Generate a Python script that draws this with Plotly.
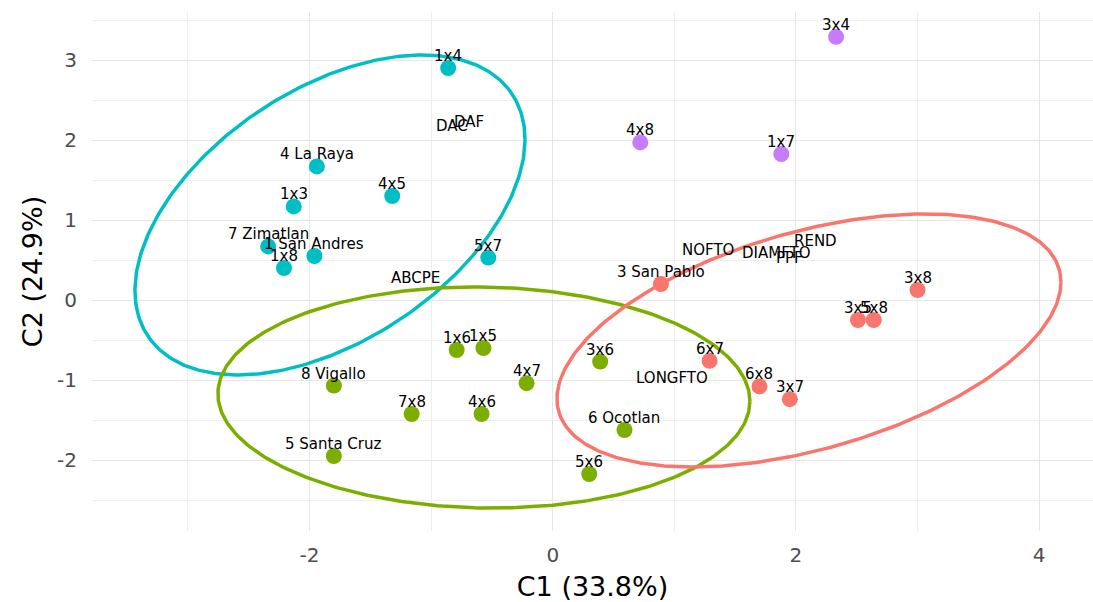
import numpy as np
import plotly.graph_objects as go

# Individuals: scores on the first two components, by cluster
c1_labels = ["1x4", "4 La Raya", "1x3", "4x5", "7 Zimatlan", "1 San Andres", "1x8", "5x7"]
c1_x = [-0.86, -1.94, -2.13, -1.32, -2.34, -1.96, -2.21, -0.53]
c1_y = [2.90, 1.67, 1.17, 1.30, 0.67, 0.55, 0.40, 0.53]

c2_labels = ["1x6", "1x5", "3x6", "4x7", "8 Vigallo", "7x8", "4x6", "6 Ocotlan", "5 Santa Cruz", "5x6"]
c2_x = [-0.79, -0.57, 0.39, -0.215, -1.80, -1.16, -0.585, 0.59, -1.80, 0.30]
c2_y = [-0.625, -0.60, -0.77, -1.04, -1.07, -1.425, -1.425, -1.625, -1.95, -2.175]

c3_labels = ["3 San Pablo", "3x8", "3x5", "5x8", "6x7", "6x8", "3x7"]
c3_x = [0.89, 3.00, 2.51, 2.64, 1.29, 1.70, 1.95]
c3_y = [0.20, 0.125, -0.25, -0.25, -0.76, -1.08, -1.24]

c4_labels = ["3x4", "4x8", "1x7"]
c4_x = [2.33, 0.72, 1.88]
c4_y = [3.29, 1.97, 1.825]

# Variables (text only)
var_labels = ["DAC", "DAF", "ABCPE", "NOFTO", "DIAMFTO", "PPF", "REND", "LONGFTO"]
var_x = [-0.83, -0.69, -1.13, 1.28, 1.84, 1.945, 2.16, 0.98]
var_y = [2.17, 2.23, 0.275, 0.62, 0.59, 0.53, 0.74, -0.97]

# Axis ticks
x_ticks = [-2, 0, 2, 4]
x_ticktext = ["-2", "0", "2", "4"]
y_ticks = [-2, -1, 0, 1, 2, 3]
y_ticktext = ["-2", "-1", "0", "1", "2", "3"]

# Confidence ellipses: centre and shape matrix (sxx, syy, sxy) per cluster
ell_cx = [-1.832, -0.566, 2.107]
ell_cy = [1.0625, -1.219, -0.506]
ell_sxx = [2.572, 4.785, 4.295]
ell_syy = [4.000, 1.908, 2.500]
ell_sxy = [1.515, -0.100, 1.511]

colors = ["#00BFC4", "#7CAE00", "#F8766D", "#C77CFF"]

fig = go.Figure()

t = np.linspace(0, 2 * np.pi, 361)
for i in range(3):
    a = np.sqrt(ell_sxx[i])
    b = ell_sxy[i] / a
    c = np.sqrt(ell_syy[i] - b * b)
    ex = ell_cx[i] + a * np.cos(t)
    ey = ell_cy[i] + b * np.cos(t) + c * np.sin(t)
    fig.add_trace(go.Scatter(x=ex, y=ey, mode="lines",
                             line=dict(color=colors[i], width=3.5),
                             hoverinfo="skip", showlegend=False))

groups = [(c1_labels, c1_x, c1_y), (c2_labels, c2_x, c2_y),
          (c3_labels, c3_x, c3_y), (c4_labels, c4_x, c4_y)]
label_font = dict(family="DejaVu Sans", size=15, color="black")
annotations = []
for i, (labs, xs, ys) in enumerate(groups):
    fig.add_trace(go.Scatter(x=xs, y=ys, mode="markers",
                             marker=dict(color=colors[i], size=16, line=dict(width=0)),
                             text=labs, showlegend=False))
    for lab, xv, yv in zip(labs, xs, ys):
        annotations.append(dict(x=xv, y=yv, text=lab, showarrow=False, yshift=12,
                                font=label_font, xanchor="center", yanchor="middle"))

for lab, xv, yv in zip(var_labels, var_x, var_y):
    annotations.append(dict(x=xv, y=yv, text=lab, showarrow=False,
                            font=label_font, xanchor="center", yanchor="middle"))

fig.update_layout(
    width=1093, height=602,
    margin=dict(l=92, r=0, t=12, b=71),
    paper_bgcolor="white", plot_bgcolor="white",
    annotations=annotations,
    showlegend=False,
)
fig.update_xaxes(
    range=[-3.789, 4.443], tickvals=x_ticks, ticktext=x_ticktext, ticks="",
    showgrid=True, gridcolor="#E6E6E6", gridwidth=1.4, zeroline=False, showline=False,
    minor=dict(tickvals=[-3, -1, 1, 3], showgrid=True, gridcolor="#EEEEEE", gridwidth=0.9),
    tickfont=dict(family="DejaVu Sans", size=20, color="#4D4D4D"),
    ticklabelstandoff=10,
    title=dict(text="C1 (33.8%)", font=dict(family="DejaVu Sans", size=27, color="black"), standoff=12),
)
fig.update_yaxes(
    range=[-2.8875, 3.6], tickvals=y_ticks, ticktext=y_ticktext, ticks="",
    showgrid=True, gridcolor="#E6E6E6", gridwidth=1.4, zeroline=False, showline=False,
    minor=dict(tickvals=[-2.5, -1.5, -0.5, 0.5, 1.5, 2.5, 3.5], showgrid=True, gridcolor="#EEEEEE", gridwidth=0.9),
    tickfont=dict(family="DejaVu Sans", size=20, color="#4D4D4D"),
    ticklabelstandoff=14,
    title=dict(text="C2 (24.9%)", font=dict(family="DejaVu Sans", size=27, color="black"), standoff=6),
)

fig.write_html("out.html")
